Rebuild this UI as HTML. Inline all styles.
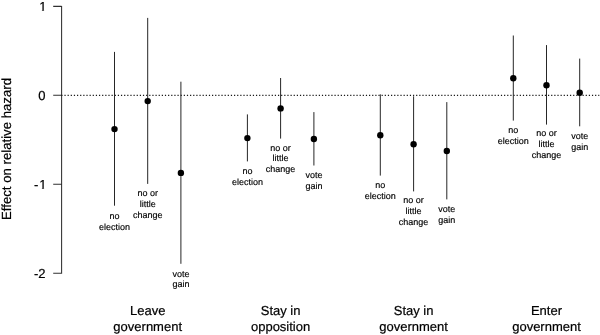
<!DOCTYPE html>
<html><head><meta charset="utf-8"><title>Effect on relative hazard</title>
<style>
html,body{margin:0;padding:0;background:#fff;}
body{width:600px;height:335px;overflow:hidden;}
svg{display:block;}
text{font-family:"Liberation Sans",Arial,sans-serif;fill:#000;text-rendering:geometricPrecision;}
.ax{font-size:13px;stroke:#000;stroke-width:0.2px;}
.sm{font-size:9px;fill:#000;stroke:#000;stroke-width:0.15px;}
</style></head><body>
<svg width="600" height="335" viewBox="0 0 600 335">
<rect width="600" height="335" fill="#fff"/>

<path d="M61.6 5.9V273.7M53.2 6.35H61.6M53.2 95.2H61.6M53.2 184.25H61.6M53.2 273.15H61.6" stroke="#303030" stroke-width="1.05" fill="none"/>
<text class="ax" x="39.27" y="11.1">1</text>
<path d="M39 9.9h2.95v2.4h-2.95zM44.05 9.9h3v2.4h-3z" fill="#fff"/><rect x="41.9" y="10" width="2.2" height="1.2" fill="#fff" opacity="0.35"/>
<text class="ax" x="45.5" y="100.0" text-anchor="end">0</text>
<text class="ax" x="33.94 39.27" y="189.0">-1</text>
<path d="M39 187.9h2.95v2.4h-2.95zM44.05 187.9h3v2.4h-3z" fill="#fff"/><rect x="41.9" y="188" width="2.2" height="1.2" fill="#fff" opacity="0.35"/>
<text class="ax" x="45.5" y="277.7" text-anchor="end">-2</text>
<text class="ax" style="font-size:13.2px" transform="translate(11.4 149) rotate(-90)" text-anchor="middle">Effect on relative hazard</text>
<line x1="61.3" y1="95.35" x2="599.3" y2="95.35" stroke="#1a1a1a" stroke-width="1.05" stroke-dasharray="1.2 1.94"/>
<line x1="114.5" y1="51.9" x2="114.5" y2="205.7" stroke="#262626" stroke-width="1"/>
<circle cx="114.5" cy="129.1" r="3.2" fill="#000"/>
<text class="sm" x="114.5" y="218.8" text-anchor="middle">no</text>
<text class="sm" x="114.5" y="229.6" text-anchor="middle">election</text>
<line x1="147.7" y1="17.9" x2="147.7" y2="183.9" stroke="#262626" stroke-width="1"/>
<circle cx="147.7" cy="101.1" r="3.2" fill="#000"/>
<text class="sm" x="147.7" y="195.9" text-anchor="middle">no or</text>
<text class="sm" x="147.7" y="206.7" text-anchor="middle">little</text>
<text class="sm" x="147.7" y="217.5" text-anchor="middle">change</text>
<line x1="180.9" y1="81.7" x2="180.9" y2="263.8" stroke="#262626" stroke-width="1"/>
<circle cx="180.9" cy="172.9" r="3.2" fill="#000"/>
<text class="sm" x="180.9" y="276.6" text-anchor="middle">vote</text>
<text class="sm" x="180.9" y="287.4" text-anchor="middle">gain</text>
<line x1="247.4" y1="114.4" x2="247.4" y2="161.4" stroke="#262626" stroke-width="1"/>
<circle cx="247.4" cy="138.1" r="3.2" fill="#000"/>
<text class="sm" x="247.4" y="174.1" text-anchor="middle">no</text>
<text class="sm" x="247.4" y="184.9" text-anchor="middle">election</text>
<line x1="280.6" y1="78.0" x2="280.6" y2="138.6" stroke="#262626" stroke-width="1"/>
<circle cx="280.6" cy="108.4" r="3.2" fill="#000"/>
<text class="sm" x="280.6" y="150.6" text-anchor="middle">no or</text>
<text class="sm" x="280.6" y="161.4" text-anchor="middle">little</text>
<text class="sm" x="280.6" y="172.2" text-anchor="middle">change</text>
<line x1="313.9" y1="112.1" x2="313.9" y2="165.5" stroke="#262626" stroke-width="1"/>
<circle cx="313.9" cy="139.0" r="3.2" fill="#000"/>
<text class="sm" x="313.9" y="178.1" text-anchor="middle">vote</text>
<text class="sm" x="313.9" y="188.9" text-anchor="middle">gain</text>
<line x1="380.3" y1="94.3" x2="380.3" y2="175.6" stroke="#262626" stroke-width="1"/>
<circle cx="380.3" cy="135.2" r="3.2" fill="#000"/>
<text class="sm" x="380.3" y="188.3" text-anchor="middle">no</text>
<text class="sm" x="380.3" y="199.1" text-anchor="middle">election</text>
<line x1="413.6" y1="96.3" x2="413.6" y2="191.4" stroke="#262626" stroke-width="1"/>
<circle cx="413.6" cy="144.2" r="3.2" fill="#000"/>
<text class="sm" x="413.6" y="203.4" text-anchor="middle">no or</text>
<text class="sm" x="413.6" y="214.2" text-anchor="middle">little</text>
<text class="sm" x="413.6" y="225.0" text-anchor="middle">change</text>
<line x1="446.8" y1="102.1" x2="446.8" y2="199.4" stroke="#262626" stroke-width="1"/>
<circle cx="446.8" cy="151.0" r="3.2" fill="#000"/>
<text class="sm" x="446.8" y="212.2" text-anchor="middle">vote</text>
<text class="sm" x="446.8" y="223.0" text-anchor="middle">gain</text>
<line x1="513.3" y1="35.5" x2="513.3" y2="120.6" stroke="#262626" stroke-width="1"/>
<circle cx="513.3" cy="78.2" r="3.2" fill="#000"/>
<text class="sm" x="513.3" y="132.9" text-anchor="middle">no</text>
<text class="sm" x="513.3" y="143.7" text-anchor="middle">election</text>
<line x1="546.5" y1="45.1" x2="546.5" y2="124.6" stroke="#262626" stroke-width="1"/>
<circle cx="546.5" cy="85.2" r="3.2" fill="#000"/>
<text class="sm" x="546.5" y="136.1" text-anchor="middle">no or</text>
<text class="sm" x="546.5" y="146.9" text-anchor="middle">little</text>
<text class="sm" x="546.5" y="157.7" text-anchor="middle">change</text>
<line x1="579.7" y1="58.6" x2="579.7" y2="126.3" stroke="#262626" stroke-width="1"/>
<circle cx="579.7" cy="92.7" r="3.2" fill="#000"/>
<text class="sm" x="579.7" y="138.9" text-anchor="middle">vote</text>
<text class="sm" x="579.7" y="149.7" text-anchor="middle">gain</text>
<text class="ax" x="147.7" y="315" text-anchor="middle">Leave</text>
<text class="ax" x="147.7" y="330.5" text-anchor="middle">government</text>
<text class="ax" x="280.6" y="315" text-anchor="middle">Stay in</text>
<text class="ax" x="280.6" y="330.5" text-anchor="middle">opposition</text>
<text class="ax" x="413.6" y="315" text-anchor="middle">Stay in</text>
<text class="ax" x="413.6" y="330.5" text-anchor="middle">government</text>
<text class="ax" x="546.5" y="315" text-anchor="middle">Enter</text>
<text class="ax" x="546.5" y="330.5" text-anchor="middle">government</text>
</svg></body></html>
